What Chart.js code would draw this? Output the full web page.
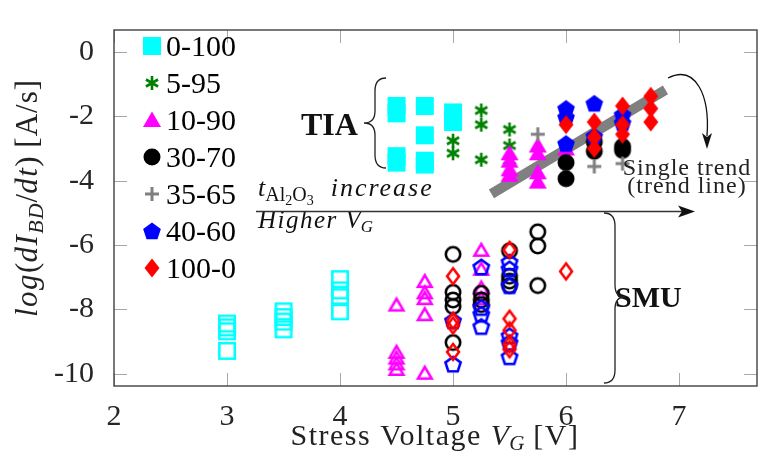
<!DOCTYPE html>
<html>
<head>
<meta charset="utf-8">
<script src="https://cdn.jsdelivr.net/npm/chart.js@4.4.0/dist/chart.umd.min.js"></script>
<style>
html, body { margin: 0; padding: 0; background: #fff; }
</style>
</head>
<body>
<canvas id="chart" width="767" height="466"></canvas>
<script>
// axis ticks
const X_TICKS = [2, 3, 4, 5, 6, 7];
const Y_TICKS = [-10, -8, -6, -4, -2, 0];

// legend / series names (Al2O3 ratio)
const SERIES_LABELS = ['0-100', '5-95', '10-90', '30-70', '35-65', '40-60', '100-0'];

// TIA measurements (filled markers), [V_G, log(dI/dt)]
const tia_0_100 = [[4.5, -1.68], [4.5, -1.91], [4.5, -3.24], [4.5, -3.44], [4.75, -1.68], [4.75, -2.59],
                   [4.75, -3.38], [4.75, -3.5], [5, -1.88], [5, -2.18]];
const tia_5_95 = [[5, -2.76], [5, -3.15], [5.25, -1.82], [5.25, -2.26], [5.25, -3.35],
                  [5.5, -2.41], [5.5, -2.91], [5.5, -3.38]];
const tia_10_90 = [[5.5, -3.15], [5.5, -3.38], [5.5, -3.65], [5.5, -3.82], [5.75, -2.91], [5.75, -3.15],
                   [5.75, -3.74], [5.75, -4.03], [6, -3.0]];
const tia_30_70 = [[6, -3.44], [6, -3.94], [6.25, -2.8], [6.25, -3.09], [6.5, -2.94], [6.5, -3.06]];
const tia_35_65 = [[5.75, -2.56], [6.25, -3.56], [6.5, -3.47]];
const tia_40_60 = [[6, -1.76], [6, -2.03], [6, -2.85], [6.25, -1.6], [6.25, -2.62], [6.5, -1.95], [6.5, -2.2]];
const tia_100_0 = [[6, -2.26], [6.25, -2.18], [6.25, -2.65], [6.25, -3.0], [6.5, -1.68], [6.5, -2.26],
                   [6.5, -2.56], [6.75, -1.38], [6.75, -1.76], [6.75, -2.18]];

// SMU measurements (hollow markers)
const smu_0_100 = [[3, -8.44], [3, -8.56], [3, -8.68], [3, -9.29], [3.5, -8.06], [3.5, -8.24], [3.5, -8.38],
                   [3.5, -8.62], [4, -7.06], [4, -7.41], [4, -7.62], [4, -8.06]];
const smu_10_90 = [[4.5, -7.85], [4.5, -9.32], [4.5, -9.5], [4.5, -9.68], [4.5, -9.85], [4.75, -7.12],
                   [4.75, -7.47], [4.75, -7.65], [4.75, -8.15], [4.75, -9.97], [5.25, -6.15], [5.25, -6.74],
                   [5.25, -7.32], [5.25, -7.65]];
const smu_30_70 = [[5, -6.29], [5, -7.47], [5, -7.71], [5, -7.91], [5, -9.03], [5.25, -7.5], [5.25, -7.71],
                   [5.25, -7.85], [5.5, -6.18], [5.5, -6.97], [5.5, -7.12], [5.5, -7.26], [5.75, -5.59],
                   [5.75, -6.03], [5.75, -7.26]];
const smu_40_60 = [[5, -8.35], [5, -9.7], [5.25, -6.68], [5.25, -7.94], [5.25, -8.15], [5.25, -8.53],
                   [5.5, -6.53], [5.5, -6.74], [5.5, -7.26], [5.5, -8.82], [5.5, -9.03], [5.5, -9.47]];
const smu_100_0 = [[5, -6.97], [5, -8.35], [5, -8.5], [5, -9.32], [5.5, -6.15], [5.5, -8.29], [5.5, -8.65],
                   [5.5, -9.09], [5.5, -9.24], [6, -6.82]];

// single trend line through TIA data
const trendLine = [[5.34, -4.41], [6.88, -1.18]];

const SERIF = '"Liberation Serif", "Times New Roman", serif';
const pts = a => a.map(([x, y]) => ({ x, y }));

// marker images (pgfplots-like shapes)
function makeMarker(shape, color, filled) {
    const c = document.createElement('canvas');
    c.width = 22; c.height = 22;
    const g = c.getContext('2d');
    g.translate(11, 11);
    g.fillStyle = color;
    g.strokeStyle = color;
    g.lineJoin = 'miter';
    const lw = 2.6;
    g.lineWidth = lw;
    const ins = filled ? 0 : lw / 2;
    g.beginPath();
    if (shape === 'square') {
        const h = 9 - ins;
        g.rect(-h, -h, 2 * h, 2 * h);
    } else if (shape === 'triangle') {
        const hw = 9 - ins * 1.7, top = -8.5 + ins * 2, bot = 7 - ins;
        g.moveTo(0, top); g.lineTo(hw, bot); g.lineTo(-hw, bot); g.closePath();
    } else if (shape === 'circle') {
        g.arc(0, 0, 8.5 - ins, 0, 2 * Math.PI);
    } else if (shape === 'pentagon') {
        const r = 9.3 - ins;
        for (let k = 0; k < 5; k++) {
            const a = -Math.PI / 2 + k * 2 * Math.PI / 5;
            g.lineTo(r * Math.cos(a), r * Math.sin(a) + 0.8);
        }
        g.closePath();
    } else if (shape === 'diamond') {
        const hw = 7.5 - ins * 1.2, hh = 9.5 - ins * 1.2;
        g.moveTo(0, -hh); g.lineTo(hw, 0); g.lineTo(0, hh); g.lineTo(-hw, 0); g.closePath();
    } else if (shape === 'asterisk') {
        for (let k = 0; k < 3; k++) {
            const a = Math.PI / 2 + k * Math.PI / 3;
            g.moveTo(7 * Math.cos(a), 7 * Math.sin(a));
            g.lineTo(-7 * Math.cos(a), -7 * Math.sin(a));
        }
        g.stroke();
        return c;
    } else if (shape === 'plus') {
        g.lineWidth = 3;
        g.moveTo(-7, 0); g.lineTo(7, 0); g.moveTo(0, -7); g.lineTo(0, 7);
        g.stroke();
        return c;
    }
    if (filled) g.fill(); else g.stroke();
    return c;
}

const STYLE = {
    '0-100': ['square', '#00ffff'],
    '5-95': ['asterisk', '#008000'],
    '10-90': ['triangle', '#ff00ff'],
    '30-70': ['circle', '#000000'],
    '35-65': ['plus', '#808080'],
    '40-60': ['pentagon', '#0000ff'],
    '100-0': ['diamond', '#ff0000'],
};
const FILLED = {}, HOLLOW = {};
SERIES_LABELS.forEach(l => {
    FILLED[l] = makeMarker(STYLE[l][0], STYLE[l][1], true);
    HOLLOW[l] = makeMarker(STYLE[l][0], STYLE[l][1], false);
});

const TIA = { '0-100': tia_0_100, '5-95': tia_5_95, '10-90': tia_10_90, '30-70': tia_30_70,
              '35-65': tia_35_65, '40-60': tia_40_60, '100-0': tia_100_0 };
const SMU = { '0-100': smu_0_100, '10-90': smu_10_90, '30-70': smu_30_70, '40-60': smu_40_60, '100-0': smu_100_0 };

const datasets = [];
SERIES_LABELS.forEach((l, i) => {
    datasets.push({ label: l + ' TIA', data: pts(TIA[l]), pointStyle: FILLED[l], pointRadius: 9, order: -i });
    if (SMU[l]) datasets.push({ label: l + ' SMU', data: pts(SMU[l]), pointStyle: HOLLOW[l], pointRadius: 9, order: -i });
});
datasets.push({
    label: 'trend', data: pts(trendLine), showLine: true, pointRadius: 0,
    borderColor: '#808080', borderWidth: 10, borderCapStyle: 'butt', order: 100
});

// draw a run of mixed-font text: segs = [text, font, dy, letterSpacing]
function drawRich(ctx, x, y, segs, align) {
    let total = 0;
    const widths = segs.map(s => {
        ctx.font = s[1];
        ctx.letterSpacing = s[3] || '0px';
        const w = ctx.measureText(s[0]).width;
        total += w;
        return w;
    });
    let cx = align === 'center' ? x - total / 2 : x;
    ctx.textAlign = 'left';
    ctx.textBaseline = 'alphabetic';
    segs.forEach((s, i) => {
        ctx.font = s[1];
        ctx.letterSpacing = s[3] || '0px';
        ctx.fillText(s[0], cx, y + (s[2] || 0));
        cx += widths[i];
    });
    ctx.letterSpacing = '0px';
}

const decorations = {
    id: 'decorations',
    afterDraw(chart) {
        const ctx = chart.ctx;
        const { left, right, top, bottom } = chart.chartArea;
        const xs = chart.scales.x, ys = chart.scales.y;
        ctx.save();

        // inner tick marks
        ctx.strokeStyle = '#a8a8a8';
        ctx.lineWidth = 1;
        ctx.beginPath();
        X_TICKS.forEach(v => {
            const px = Math.round(xs.getPixelForValue(v)) + 0.5;
            ctx.moveTo(px, bottom); ctx.lineTo(px, bottom - 13);
            ctx.moveTo(px, top); ctx.lineTo(px, top + 13);
        });
        Y_TICKS.forEach(v => {
            const py = Math.round(ys.getPixelForValue(v)) + 0.5;
            ctx.moveTo(left, py); ctx.lineTo(left + 13, py);
            ctx.moveTo(right, py); ctx.lineTo(right - 13, py);
        });
        ctx.stroke();

        // frame
        ctx.strokeStyle = '#404040';
        ctx.lineWidth = 1.4;
        ctx.strokeRect(left, top, right - left, bottom - top);

        // legend
        ctx.fillStyle = '#000';
        SERIES_LABELS.forEach((l, i) => {
            const cy = 46 + i * 37;
            const m = FILLED[l];
            ctx.drawImage(m, 152 - m.width / 2, cy - m.height / 2);
            drawRich(ctx, 166, cy + 10, [[l, `30px ${SERIF}`]]);
        });

        // axis titles
        ctx.fillStyle = '#222';
        drawRich(ctx, 435, 445, [
            ['Stress Voltage ', `30px ${SERIF}`, 0, '1.5px'],
            ['V', `italic 30px ${SERIF}`],
            ['G', `italic 21px ${SERIF}`, 5],
            [' [V]', `30px ${SERIF}`, 0, '1.5px'],
        ], 'center');
        ctx.save();
        ctx.translate(37, 198);
        ctx.rotate(-Math.PI / 2);
        drawRich(ctx, 0, 0, [
            ['log', `italic 31px ${SERIF}`, 0, '1.5px'],
            ['(', `31px ${SERIF}`],
            ['dI', `italic 31px ${SERIF}`, 0, '1.5px'],
            ['BD', `italic 22px ${SERIF}`, 6, '1px'],
            ['/', `31px ${SERIF}`],
            ['dt', `italic 31px ${SERIF}`, 0, '1.5px'],
            [')', `31px ${SERIF}`],
            [' [A/s]', `31px ${SERIF}`, 0, '1px'],
        ], 'center');
        ctx.restore();

        // TIA label and brace
        ctx.fillStyle = '#111';
        drawRich(ctx, 301, 135, [['TIA', `bold 32px ${SERIF}`]]);
        ctx.strokeStyle = '#222';
        ctx.lineWidth = 1.3;
        ctx.beginPath();
        ctx.moveTo(386, 78);
        ctx.quadraticCurveTo(375, 78, 375, 91);
        ctx.lineTo(375, 111);
        ctx.quadraticCurveTo(375, 123, 364, 123);
        ctx.quadraticCurveTo(375, 123, 375, 135);
        ctx.lineTo(375, 155);
        ctx.quadraticCurveTo(375, 168, 386, 168);
        ctx.stroke();

        // SMU label and brace
        drawRich(ctx, 615, 307, [['SMU', `bold 30px ${SERIF}`]]);
        ctx.beginPath();
        ctx.moveTo(604, 213);
        ctx.quadraticCurveTo(615, 213, 615, 226);
        ctx.lineTo(615, 285);
        ctx.quadraticCurveTo(615, 297, 625, 297);
        ctx.quadraticCurveTo(615, 297, 615, 309);
        ctx.lineTo(615, 370);
        ctx.quadraticCurveTo(615, 383, 604, 383);
        ctx.stroke();

        // thickness / voltage arrow
        drawRich(ctx, 258, 196, [
            ['t', `italic 26px ${SERIF}`],
            ['Al', `20px ${SERIF}`, 5],
            ['2', `14px ${SERIF}`, 9],
            ['O', `20px ${SERIF}`, 5],
            ['3', `14px ${SERIF}`, 9],
            ['  increase', `italic 26px ${SERIF}`, 0, '2px'],
        ]);
        drawRich(ctx, 258, 228, [
            ['Higher ', `italic 25px ${SERIF}`, 0, '1.5px'],
            ['V', `italic 25px ${SERIF}`],
            ['G', `italic 17px ${SERIF}`, 4],
        ]);
        ctx.strokeStyle = '#333';
        ctx.lineWidth = 1.5;
        ctx.beginPath();
        ctx.moveTo(256, 211.5); ctx.lineTo(684, 211.5);
        ctx.stroke();
        ctx.fillStyle = '#111';
        ctx.beginPath();
        ctx.moveTo(695, 211.5); ctx.lineTo(678, 205.5); ctx.lineTo(682, 211.5); ctx.lineTo(678, 217.5);
        ctx.closePath(); ctx.fill();

        // trend line note and curved arrow
        ctx.fillStyle = '#222';
        drawRich(ctx, 687, 175, [['Single trend', `24px ${SERIF}`, 0, '1px']], 'center');
        drawRich(ctx, 687, 193, [['(trend line)', `24px ${SERIF}`, 0, '1px']], 'center');
        ctx.strokeStyle = '#111';
        ctx.lineWidth = 1.3;
        ctx.beginPath();
        ctx.moveTo(668, 78);
        ctx.bezierCurveTo(696, 64, 710, 96, 707, 136);
        ctx.stroke();
        ctx.fillStyle = '#111';
        ctx.beginPath();
        ctx.moveTo(707, 149); ctx.lineTo(702, 133); ctx.lineTo(707, 137); ctx.lineTo(712, 133);
        ctx.closePath(); ctx.fill();

        ctx.restore();
    }
};

new Chart(document.getElementById('chart'), {
    type: 'scatter',
    data: { datasets },
    options: {
        responsive: false,
        animation: false,
        events: [],
        layout: { padding: { top: 10, right: 1, left: 0, bottom: 0 } },
        plugins: { legend: { display: false }, tooltip: { enabled: false } },
        scales: {
            x: {
                type: 'linear', min: 2, max: 7.69,
                afterFit: s => { s.height = 80; },
                afterBuildTicks: s => { s.ticks = X_TICKS.map(v => ({ value: v })); },
                grid: { display: false },
                border: { display: false },
                ticks: { font: { family: SERIF, size: 30 }, color: '#262626', padding: 5, maxRotation: 0, autoSkip: false }
            },
            y: {
                type: 'linear', min: -10.38, max: 0.68,
                afterFit: s => { s.width = 114; },
                afterBuildTicks: s => { s.ticks = Y_TICKS.map(v => ({ value: v })); },
                grid: { display: false },
                border: { display: false },
                ticks: { font: { family: SERIF, size: 30 }, color: '#262626', padding: 12, autoSkip: false }
            }
        }
    },
    plugins: [decorations]
});
</script>
</body>
</html>
